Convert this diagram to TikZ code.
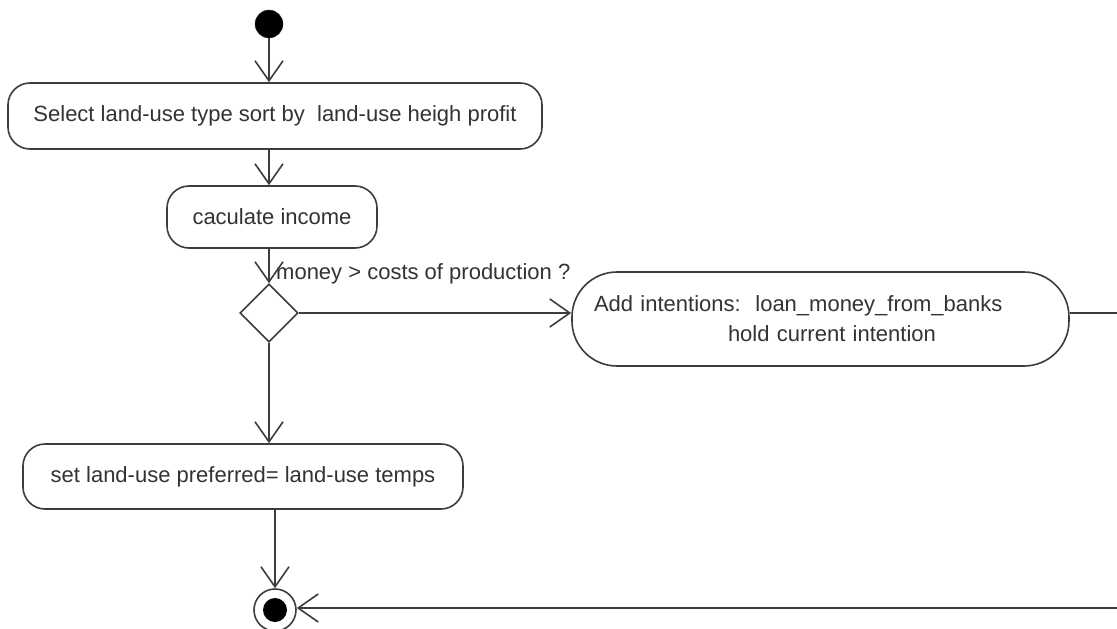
\documentclass[tikz,border=0pt]{standalone}
\usepackage{fontspec}
\setmainfont{Liberation Sans}
\usetikzlibrary{arrows.meta,shapes.geometric}
\definecolor{umlline}{HTML}{3C3C3C}
\definecolor{umltext}{HTML}{333333}
\tikzset{
  activity/.style={draw=umlline,line width=1.6pt,rounded corners=22pt,fill=white,
    text=umltext,inner sep=0pt,font=\fontsize{22}{30}\selectfont},
  decision/.style={draw=umlline,line width=1.6pt,diamond,fill=white,inner sep=0pt,
    minimum width=58pt,minimum height=58pt},
  flow/.style={draw=umlline,line width=1.6pt,-{Straight Barb[length=20pt,width=28pt,line width=1.6pt]}},
  plain/.style={draw=umlline,line width=1.6pt}
}
\begin{document}
\begin{tikzpicture}[x=1pt,y=-1pt]
  \useasboundingbox[fill=white] (0,0) rectangle (1117,629);
  \node[circle,fill=black,draw=umlline,minimum size=28pt,inner sep=0pt] (start) at (269,24) {};
  \node[activity,minimum width=534pt,minimum height=66pt] (select) at (275,116)
    {Select land-use type sort by\ \ land-use heigh profit};
  \node[activity,minimum width=210pt,minimum height=62pt] (income) at (272,217) {caculate income};
  \node[decision] (dia) at (269,313) {};
  \node[activity,rounded corners=45pt,minimum height=94pt,text width=453pt,inner xsep=22pt,align=left]
    (intent) at (820.5,319)
    {Add intentions:\ \ loan\_money\_from\_banks\\\hspace*{134pt}hold current intention};
  \node[activity,minimum width=440pt,minimum height=65pt] (prefer) at (243,476.5)
    {set land-use preferred= land-use temps};
  \node[circle,draw=umlline,line width=1.6pt,fill=white,minimum size=42pt,inner sep=0pt,
    path picture={\fill[black] (path picture bounding box.center) circle (12pt);}] (final) at (275,610) {};
  \node[anchor=base west,text=umltext,font=\fontsize{22}{26}\selectfont,inner sep=0pt] (guard) at (276,279)
    {money > costs of production ?};
  \coordinate (outR) at (1117,313);
  \coordinate (inR) at (1117,608);
  \draw[flow] (start) -- (start |- select.north);
  \draw[flow] (select.south -| dia) -- (income.north -| dia);
  \draw[flow] (income.south -| dia) -- (dia.north);
  \draw[flow] (dia.east) -- (dia.east -| intent.west);
  \draw[flow] (dia.south) -- (prefer.north -| dia);
  \draw[plain] (outR -| intent.east) -- (outR);
  \draw[flow] (prefer.south -| final) -- (final.north);
  \draw[flow] (inR) -- (inR -| final.east);
\end{tikzpicture}
\end{document}
